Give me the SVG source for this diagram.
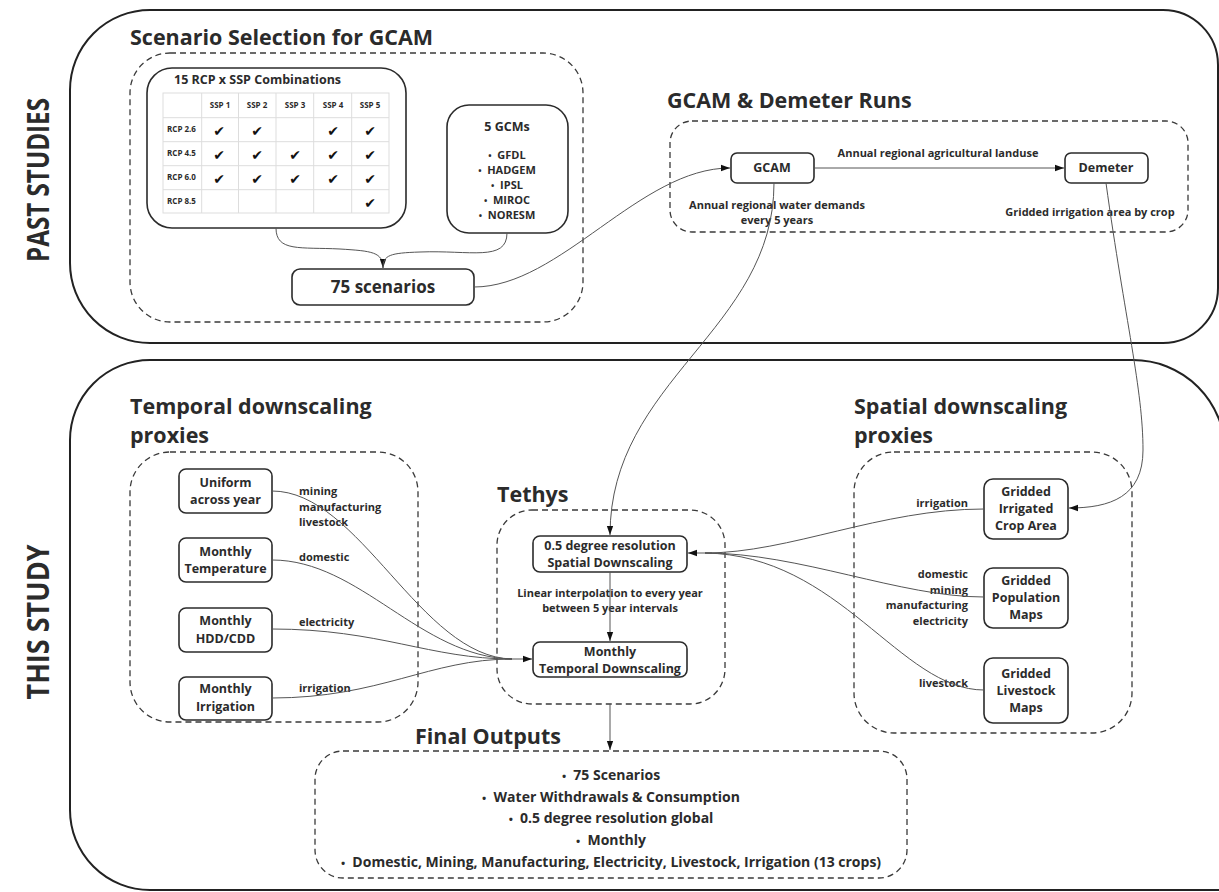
<svg xmlns="http://www.w3.org/2000/svg" width="1219" height="892" viewBox="0 0 1219 892">
<defs>
<style>
text{font-family:"Open Sans","Liberation Sans",sans-serif;font-weight:700;fill:#2b2b2b}
.outer{fill:none;stroke:#222;stroke-width:2}
.dash{fill:none;stroke:#3a3a3a;stroke-width:1.3;stroke-dasharray:6 4}
.box{fill:#fff;stroke:#2b2b2b;stroke-width:1.6}
.conn{fill:none;stroke:#555;stroke-width:1}
.grid{fill:none;stroke:#ddd;stroke-width:1}
.vt{font-size:30px}
.title{font-size:21.5px}
.node{font-size:12.5px;text-anchor:middle}
.lbl{font-size:11px}
.th{font-size:8px;text-anchor:middle}
.rh{font-size:8px}
.chk{font-family:"DejaVu Sans",sans-serif;font-size:14px;text-anchor:middle;fill:#111}
.fo{font-size:14px;text-anchor:middle}
.b{font-size:0.8em}
</style>
<marker id="arr" viewBox="0 0 10 10" refX="10" refY="5" markerWidth="9" markerHeight="9" markerUnits="userSpaceOnUse" orient="auto">
<path d="M0,1.5 L10,5 L0,8.5 Z" fill="#111"/>
</marker>
</defs>
<rect width="1219" height="892" fill="#fff"/>

<g id="past-studies">
<path class="outer" d="M150,10 H1163 A55,55 0 0 1 1218,65 V288 A55,55 0 0 1 1163,343 H150 A80,80 0 0 1 70,263 V90 A80,80 0 0 1 150,10 Z"/>
<text class="vt" transform="translate(49,180) rotate(-90)" text-anchor="middle" textLength="164" lengthAdjust="spacingAndGlyphs">PAST STUDIES</text>
</g>
<g id="this-study">
<path class="outer" d="M1225,892 V452 A92,92 0 0 0 1133,360 H150 A80,80 0 0 0 70,440 V810 A80,80 0 0 0 150,890 H1225"/>
<text class="vt" transform="translate(49,622) rotate(-90)" text-anchor="middle" textLength="155" lengthAdjust="spacingAndGlyphs">THIS STUDY</text>
</g>

<g id="scenario-selection">
<text class="title" x="130" y="45">Scenario Selection for GCAM</text>
<rect class="dash" x="130" y="53" width="453" height="269" rx="40"/>
</g>

<g id="rcp-ssp">
<rect class="box" x="147" y="68" width="259" height="160" rx="25"/>
<text x="174" y="84" font-size="12.5">15 RCP x SSP Combinations</text>
<rect class="grid" x="163" y="93" width="226" height="120"/>
<path class="grid" d="M201.7,93 V213 M238.5,93 V213 M276,93 V213 M313.7,93 V213 M351.7,93 V213 M163,117.7 H389 M163,141.7 H389 M163,165.7 H389 M163,189.7 H389"/>
<text class="th" x="220" y="108">SSP 1</text>
<text class="th" x="257" y="108">SSP 2</text>
<text class="th" x="295" y="108">SSP 3</text>
<text class="th" x="333" y="108">SSP 4</text>
<text class="th" x="370" y="108">SSP 5</text>
<text class="rh" x="167" y="132">RCP 2.6</text>
<text class="rh" x="167" y="156">RCP 4.5</text>
<text class="rh" x="167" y="180">RCP 6.0</text>
<text class="rh" x="167" y="204">RCP 8.5</text>
<text class="chk" x="219" y="136">✔</text><text class="chk" x="257" y="136">✔</text><text class="chk" x="333" y="136">✔</text><text class="chk" x="370" y="136">✔</text>
<text class="chk" x="219" y="160">✔</text><text class="chk" x="257" y="160">✔</text><text class="chk" x="295" y="160">✔</text><text class="chk" x="333" y="160">✔</text><text class="chk" x="370" y="160">✔</text>
<text class="chk" x="219" y="184">✔</text><text class="chk" x="257" y="184">✔</text><text class="chk" x="295" y="184">✔</text><text class="chk" x="333" y="184">✔</text><text class="chk" x="370" y="184">✔</text>
<text class="chk" x="370" y="208">✔</text>
</g>

<g id="gcms">
<rect class="box" x="447" y="105" width="121" height="128" rx="22"/>
<text class="node" x="507" y="131">5 GCMs</text>
<text x="507" y="159" font-size="11" text-anchor="middle"><tspan class="b">•</tspan>&#160;&#160;GFDL</text>
<text x="507" y="174" font-size="11" text-anchor="middle"><tspan class="b">•</tspan>&#160;&#160;HADGEM</text>
<text x="507" y="189" font-size="11" text-anchor="middle"><tspan class="b">•</tspan>&#160;&#160;IPSL</text>
<text x="507" y="204" font-size="11" text-anchor="middle"><tspan class="b">•</tspan>&#160;&#160;MIROC</text>
<text x="507" y="219" font-size="11" text-anchor="middle"><tspan class="b">•</tspan>&#160;&#160;NORESM</text>
</g>

<g id="scenarios75">
<rect class="box" x="292" y="269" width="182" height="36" rx="8"/>
<text x="383" y="293" font-size="17" text-anchor="middle">75 scenarios</text>
</g>

<g id="gcam-demeter-runs">
<text class="title" x="667" y="108">GCAM &amp; Demeter Runs</text>
<rect class="dash" x="670" y="121" width="518" height="111" rx="22"/>
<text class="lbl" x="938" y="157" text-anchor="middle">Annual regional agricultural landuse</text>
<text class="lbl" x="777" y="209" text-anchor="middle">Annual regional water demands</text>
<text class="lbl" x="777" y="224" text-anchor="middle">every 5 years</text>
<text class="lbl" x="1090" y="216" text-anchor="middle">Gridded irrigation area by crop</text>
</g>
<g id="gcam">
<rect class="box" x="731" y="153" width="83" height="30" rx="6"/>
<text class="node" x="772" y="172">GCAM</text>
</g>
<g id="demeter">
<rect class="box" x="1065" y="153" width="83" height="30" rx="6"/>
<text class="node" x="1106" y="172">Demeter</text>
</g>

<g id="temporal-proxies">
<text class="title" x="130" y="414">Temporal downscaling</text>
<text class="title" x="130" y="443">proxies</text>
<rect class="dash" x="130" y="452" width="288" height="270" rx="40"/>
<text class="lbl" x="299" y="495">mining</text>
<text class="lbl" x="299" y="511">manufacturing</text>
<text class="lbl" x="299" y="526">livestock</text>
<text class="lbl" x="299" y="561">domestic</text>
<text class="lbl" x="299" y="626">electricity</text>
<text class="lbl" x="299" y="692">irrigation</text>
</g>
<g id="uniform">
<rect class="box" x="179" y="469" width="93" height="44" rx="7"/>
<text class="node" x="225.5" y="487">Uniform</text>
<text class="node" x="225.5" y="504">across year</text>
</g>
<g id="monthly-temperature">
<rect class="box" x="179" y="538" width="93" height="44" rx="7"/>
<text class="node" x="225.5" y="556">Monthly</text>
<text class="node" x="225.5" y="573">Temperature</text>
</g>
<g id="monthly-hdd">
<rect class="box" x="179" y="608" width="93" height="44" rx="7"/>
<text class="node" x="225.5" y="625">Monthly</text>
<text class="node" x="225.5" y="643">HDD/CDD</text>
</g>
<g id="monthly-irrigation">
<rect class="box" x="179" y="677" width="93" height="43" rx="7"/>
<text class="node" x="225.5" y="693">Monthly</text>
<text class="node" x="225.5" y="711">Irrigation</text>
</g>

<g id="tethys">
<text class="title" x="497" y="502">Tethys</text>
<rect class="dash" x="497" y="510" width="228" height="194" rx="35"/>
<text class="lbl" x="610" y="597" text-anchor="middle">Linear interpolation to every year</text>
<text class="lbl" x="610" y="612" text-anchor="middle">between 5 year intervals</text>
</g>
<g id="spatial-downscaling">
<rect class="box" x="533" y="536" width="154" height="36" rx="7"/>
<text class="node" x="610" y="550">0.5 degree resolution</text>
<text class="node" x="610" y="567">Spatial Downscaling</text>
</g>
<g id="temporal-downscaling">
<rect class="box" x="533" y="642" width="154" height="35" rx="7"/>
<text class="node" x="610" y="656">Monthly</text>
<text class="node" x="610" y="673">Temporal Downscaling</text>
</g>

<g id="spatial-proxies">
<text class="title" x="854" y="414">Spatial downscaling</text>
<text class="title" x="854" y="443">proxies</text>
<rect class="dash" x="854" y="452" width="278" height="281" rx="40"/>
<text class="lbl" x="968" y="507" text-anchor="end">irrigation</text>
<text class="lbl" x="968" y="578" text-anchor="end">domestic</text>
<text class="lbl" x="968" y="594" text-anchor="end">mining</text>
<text class="lbl" x="968" y="609" text-anchor="end">manufacturing</text>
<text class="lbl" x="968" y="625" text-anchor="end">electricity</text>
<text class="lbl" x="968" y="687" text-anchor="end">livestock</text>
</g>
<g id="gridded-irrigated">
<rect class="box" x="984" y="479" width="84" height="60" rx="9"/>
<text class="node" x="1026" y="496">Gridded</text>
<text class="node" x="1026" y="513">Irrigated</text>
<text class="node" x="1026" y="530">Crop Area</text>
</g>
<g id="gridded-population">
<rect class="box" x="984" y="568" width="84" height="60" rx="9"/>
<text class="node" x="1026" y="585">Gridded</text>
<text class="node" x="1026" y="602">Population</text>
<text class="node" x="1026" y="619">Maps</text>
</g>
<g id="gridded-livestock">
<rect class="box" x="984" y="658" width="84" height="65" rx="9"/>
<text class="node" x="1026" y="678">Gridded</text>
<text class="node" x="1026" y="695">Livestock</text>
<text class="node" x="1026" y="712">Maps</text>
</g>

<g id="final-outputs">
<text class="title" x="415" y="744">Final Outputs</text>
<rect class="dash" x="315" y="751" width="592" height="127" rx="28"/>
<text class="fo" x="611" y="780"><tspan class="b">•</tspan>&#160;&#160;75 Scenarios</text>
<text class="fo" x="611" y="802"><tspan class="b">•</tspan>&#160;&#160;Water Withdrawals &amp; Consumption</text>
<text class="fo" x="611" y="823"><tspan class="b">•</tspan>&#160;&#160;0.5 degree resolution global</text>
<text class="fo" x="611" y="845"><tspan class="b">•</tspan>&#160;&#160;Monthly</text>
<text class="fo" x="611" y="867"><tspan class="b">•</tspan>&#160;&#160;Domestic, Mining, Manufacturing, Electricity, Livestock, Irrigation (13 crops)</text>
</g>

<g id="connectors">
<path class="conn" d="M276,228 C276,252 300,247 340,249 C372,251 383,252 383,268" marker-end="url(#arr)"/>
<path class="conn" d="M507,233 C507,262 470,250 420,252 C390,253 383,255 383,268"/>
<path class="conn" d="M474,287 C560,287 640,168 730,168" marker-end="url(#arr)"/>
<path class="conn" d="M814,168 H1064" marker-end="url(#arr)"/>
<path class="conn" d="M774,183 C774,330 610,380 610,535" marker-end="url(#arr)"/>
<path class="conn" d="M1106,183 C1125,320 1143,390 1143,450 C1143,497 1110,508 1069,508" marker-end="url(#arr)"/>
<path class="conn" d="M610,572 V641" marker-end="url(#arr)"/>
<path class="conn" d="M272,491 C360,491 420,657 512,659"/>
<path class="conn" d="M272,560 C360,560 420,657 512,659"/>
<path class="conn" d="M272,629 C380,629 430,659 512,659"/>
<path class="conn" d="M272,698 C380,698 430,659 512,659"/>
<path class="conn" d="M505,659 H532" marker-end="url(#arr)"/>
<path class="conn" d="M984,509 C880,509 790,553 705,553"/>
<path class="conn" d="M984,597 C900,597 800,553 705,553"/>
<path class="conn" d="M984,690 C900,690 840,555 705,553"/>
<path class="conn" d="M712,553 H688" marker-end="url(#arr)"/>
<path class="conn" d="M610,704 V750" marker-end="url(#arr)"/>
</g>
</svg>
